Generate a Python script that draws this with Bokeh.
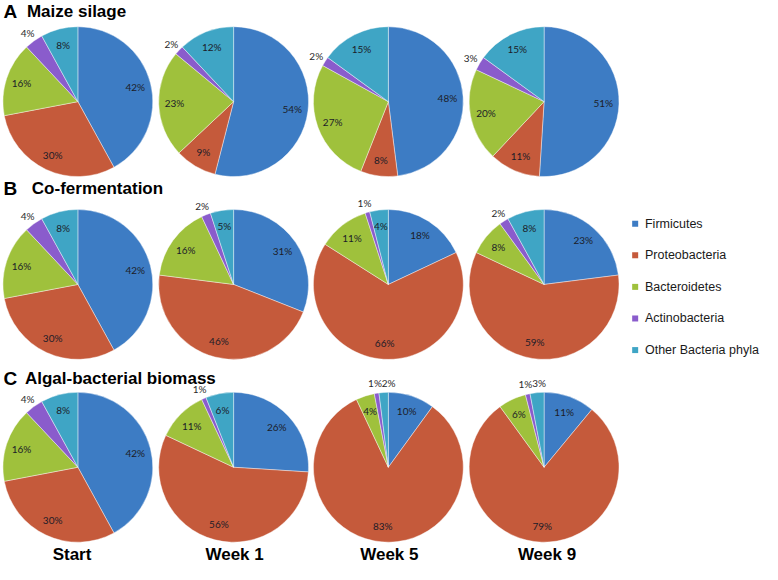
import math
from bokeh.plotting import figure
from bokeh.models import ColumnDataSource, Range1d
from bokeh.core.properties import value
from bokeh.embed import file_html
from bokeh.resources import INLINE

# ---------------- data ----------------
phyla = ["Firmicutes", "Proteobacteria", "Bacteroidetes", "Actinobacteria", "Other Bacteria phyla"]
colors = ["#3d7cc4", "#c55a3b", "#9fc13c", "#8a5ccc", "#3fa5c5"]
time_points = ["Start", "Week 1", "Week 5", "Week 9"]
row_letters = ["A", "B", "C"]
row_titles = ["Maize silage", "Co-fermentation", "Algal-bacterial biomass"]

# percentages per time point, in phyla order
maize_silage = [[42, 30, 16, 4, 8], [54, 9, 23, 2, 12], [48, 8, 27, 2, 15], [51, 11, 20, 3, 15]]
co_fermentation = [[42, 30, 16, 4, 8], [31, 46, 16, 2, 5], [18, 66, 11, 1, 4], [23, 59, 8, 2, 8]]
algal_bacterial = [[42, 30, 16, 4, 8], [26, 56, 11, 1, 6], [10, 83, 4, 1, 2], [11, 79, 6, 1, 3]]
rows_data = [maize_silage, co_fermentation, algal_bacterial]

# ---------------- layout (reference pixel space, y down) ----------------
W, H = 778, 580
pie_cx = [79, 238, 396, 555]
pie_cy = [104, 292, 480]
R = 76.5
title_letter_x = [3, 3, 3]
title_text_x = [27, 32, 25]
title_mid_y = [11, 193.5, 388.5]
col_label_x = [73, 239, 397, 558]
col_label_mid_y = 570
leg_x = 648
leg_y = [229.5, 262, 294.5, 327, 359.5]

def Y(py):
    return H - py

p = figure(width=762, height=564, output_backend="svg", toolbar_location=None,
           x_range=Range1d(0, W), y_range=Range1d(0, H), min_border=0)
p.axis.visible = False
p.grid.visible = False
p.outline_line_color = None
p.background_fill_color = "white"
p.border_fill_color = "white"

wx, wy, ws, we, wc = [], [], [], [], []
lx, ly, lt, lcol = [], [], [], []
for ri, row in enumerate(rows_data):
    for ci, vals in enumerate(row):
        cx, cy = pie_cx[ci], Y(pie_cy[ri])
        total = float(sum(vals))
        cum = 0.0
        outs = []
        for k, v in enumerate(vals):
            f0 = cum / total
            f1 = (cum + v) / total
            cum += v
            wx.append(cx); wy.append(cy)
            ws.append(math.pi / 2 - 2 * math.pi * f0)
            we.append(math.pi / 2 - 2 * math.pi * f1)
            wc.append(colors[k])
            mid = (f0 + f1) / 2 * 2 * math.pi
            dx, dy = math.sin(mid), math.cos(mid)
            outside = (k == 3) or v <= 3
            rf = 1.14 if outside else 0.79
            x = cx + dx * R * rf
            y = cy + dy * R * rf
            if outside:
                outs.append([x, y, "%d%%" % v])
            else:
                lx.append(x); ly.append(y); lt.append("%d%%" % v); lcol.append("#1c1c28")
        # keep adjacent outside labels from overlapping
        for i in range(1, len(outs)):
            if outs[i][0] - outs[i - 1][0] < 14:
                outs[i][0] = outs[i - 1][0] + 14
        for x, y, t in outs:
            lx.append(x); ly.append(y); lt.append(t); lcol.append("#2a2a2a")

p.wedge(x="x", y="y", radius=R, start_angle="s", end_angle="e", direction="clock",
        fill_color="c", line_color="white", line_width=0.6, line_alpha=0.7,
        source=ColumnDataSource(dict(x=wx, y=wy, s=ws, e=we, c=wc)))

p.text(x="x", y="y", text="t", text_color="c", text_font=value("Lato"),
       text_font_size="10px", text_align="center", text_baseline="middle",
       source=ColumnDataSource(dict(x=lx, y=ly, t=lt, c=lcol)))

# row titles
p.text(x=title_letter_x, y=[Y(v) for v in title_mid_y], text=row_letters,
       text_font=value("Liberation Sans"), text_font_style="bold", text_font_size="19px",
       text_color="black", text_baseline="middle", text_align="left")
p.text(x=title_text_x, y=[Y(v) for v in title_mid_y], text=row_titles,
       text_font=value("Liberation Sans"), text_font_style="bold", text_font_size="17px",
       text_color="black", text_baseline="middle", text_align="left")

# column labels
p.text(x=col_label_x, y=[Y(col_label_mid_y)] * 4, text=time_points,
       text_font=value("Liberation Sans"), text_font_style="bold", text_font_size="17px",
       text_color="black", text_baseline="middle", text_align="center")

# legend
p.scatter(x=[leg_x] * 5, y=[Y(v) for v in leg_y], marker="square", size=6,
          fill_color=colors, line_color=None)
p.text(x=[leg_x + 10] * 5, y=[Y(v) for v in leg_y], text=phyla,
       text_font=value("Liberation Sans"), text_font_size="12.5px", text_color="#1a1a1a",
       text_baseline="middle", text_align="left")

open("out.html", "w").write(file_html(p, INLINE))
